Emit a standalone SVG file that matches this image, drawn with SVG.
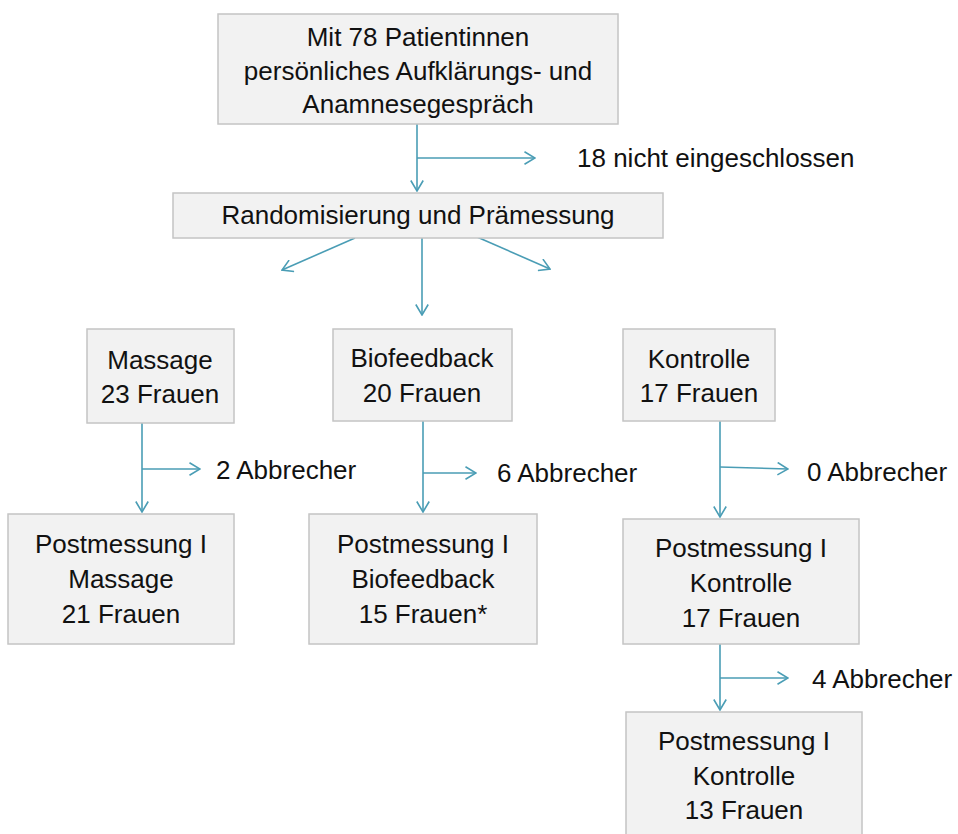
<svg xmlns="http://www.w3.org/2000/svg" width="958" height="834" viewBox="0 0 958 834">
<style>
.box{fill:#f2f2f2;stroke:#c4c4c4;stroke-width:1.5}
text{font-family:"Liberation Sans",Arial,sans-serif;font-size:26px;fill:#111}
.c{text-anchor:middle}
.ln{fill:none;stroke:#4a9db5;stroke-width:1.6}
.ar{marker-end:url(#ah)}
</style>
<defs>
<marker id="ah" markerUnits="userSpaceOnUse" viewBox="0 0 12 14" markerWidth="12" markerHeight="14" refX="11" refY="7" orient="auto">
<path d="M0.5,0.8 L11,7 L0.5,13.2" fill="none" stroke="#4a9db5" stroke-width="1.6"/>
</marker>
</defs>
<rect width="958" height="834" fill="#fff"/>
<g id="connectors">
<path class="ln ar" d="M417,124 V191"/>
<path class="ln ar" d="M417,158 H535"/>
<path class="ln ar" d="M355,238 L282,270"/>
<path class="ln ar" d="M422,228 V315"/>
<path class="ln ar" d="M477,237 L550,269"/>
<path class="ln ar" d="M142,423 V512"/>
<path class="ln ar" d="M142,469 H200"/>
<path class="ln ar" d="M423,421 V512"/>
<path class="ln ar" d="M423,473 H476"/>
<path class="ln ar" d="M720,421 V517"/>
<path class="ln ar" d="M720,467 L788,469"/>
<path class="ln ar" d="M720,644 V710"/>
<path class="ln ar" d="M720,678 H788"/>
</g>
<g id="start">
<rect class="box" x="218" y="14" width="400" height="110"/>
<text class="c" x="418" y="46">Mit 78 Patientinnen</text>
<text class="c" x="418" y="80">persönliches Aufklärungs- und</text>
<text class="c" x="418" y="113">Anamnesegespräch</text>
</g>
<g id="excluded">
<text x="577" y="167">18 nicht eingeschlossen</text>
</g>
<g id="random">
<rect class="box" x="173" y="193" width="490" height="45"/>
<text class="c" x="418" y="224">Randomisierung und Prämessung</text>
</g>
<g id="massage">
<rect class="box" x="87" y="329" width="147" height="94"/>
<text class="c" x="160" y="369">Massage</text>
<text class="c" x="160" y="403">23 Frauen</text>
</g>
<g id="biofeedback">
<rect class="box" x="333" y="329" width="179" height="92"/>
<text class="c" x="422" y="367">Biofeedback</text>
<text class="c" x="422" y="402">20 Frauen</text>
</g>
<g id="kontrolle">
<rect class="box" x="623" y="329" width="152" height="92"/>
<text class="c" x="699" y="368">Kontrolle</text>
<text class="c" x="699" y="402">17 Frauen</text>
</g>
<g id="drop-massage"><text x="216" y="479">2 Abbrecher</text></g>
<g id="drop-bio"><text x="497" y="482">6 Abbrecher</text></g>
<g id="drop-k1"><text x="807" y="481">0 Abbrecher</text></g>
<g id="drop-k2"><text x="812" y="688">4 Abbrecher</text></g>
<g id="post-massage">
<rect class="box" x="8" y="514" width="226" height="130"/>
<text class="c" x="121" y="553">Postmessung I</text>
<text class="c" x="121" y="588">Massage</text>
<text class="c" x="121" y="623">21 Frauen</text>
</g>
<g id="post-bio">
<rect class="box" x="309" y="514" width="228" height="130"/>
<text class="c" x="423" y="553">Postmessung I</text>
<text class="c" x="423" y="588">Biofeedback</text>
<text class="c" x="423" y="623">15 Frauen*</text>
</g>
<g id="post-k1">
<rect class="box" x="623" y="519" width="236" height="125"/>
<text class="c" x="741" y="557">Postmessung I</text>
<text class="c" x="741" y="592">Kontrolle</text>
<text class="c" x="741" y="627">17 Frauen</text>
</g>
<g id="post-k2">
<rect class="box" x="626" y="712" width="236" height="130"/>
<text class="c" x="744" y="750">Postmessung I</text>
<text class="c" x="744" y="785">Kontrolle</text>
<text class="c" x="744" y="819">13 Frauen</text>
</g>
</svg>
